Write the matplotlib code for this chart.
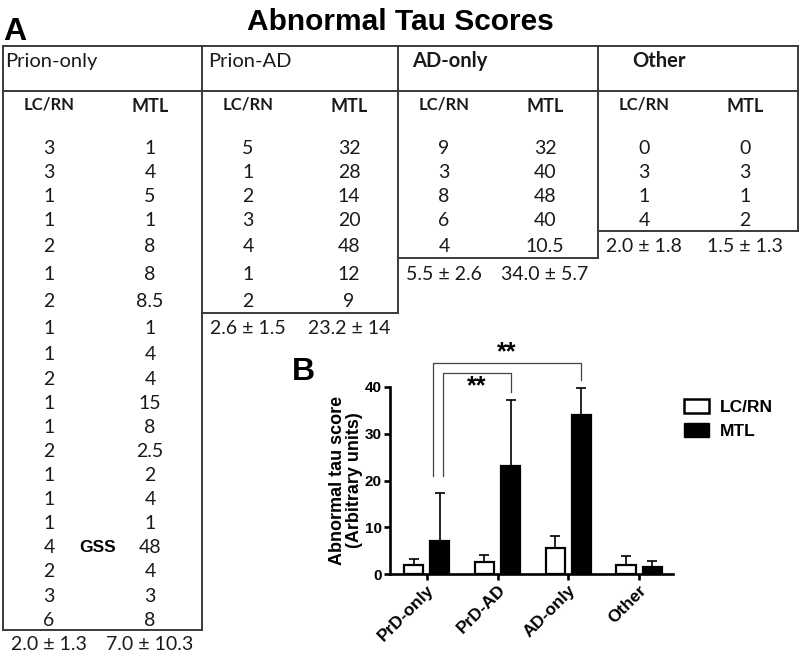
import matplotlib
matplotlib.use('Agg')
import matplotlib.pyplot as plt
from matplotlib.patches import Patch
import numpy as np

plt.rcParams['font.family'] = ['Liberation Sans', 'DejaVu Sans']

# ---- data (panel A table) ----
groups = ['Prion-only', 'Prion-AD', 'AD-only', 'Other']
prion_only_lc = [3, 3, 1, 1, 2, 1, 2, 1, 1, 2, 1, 1, 2, 1, 1, 1, 4, 2, 3, 6]
prion_only_mtl = [1, 4, 5, 1, 8, 8, 8.5, 1, 4, 4, 15, 8, 2.5, 2, 4, 1, 48, 4, 3, 8]
prion_ad_lc = [5, 1, 2, 3, 4, 1, 2]
prion_ad_mtl = [32, 28, 14, 20, 48, 12, 9]
ad_only_lc = [9, 3, 8, 6, 4]
ad_only_mtl = [32, 40, 48, 40, 10.5]
other_lc = [0, 3, 1, 4]
other_mtl = [0, 3, 1, 2]
gss_row = 16  # the GSS case in Prion-only

# ---- data (panel B bars) ----
bar_labels = ['PrD-only', 'PrD-AD', 'AD-only', 'Other']
lc_mean = [2.0, 2.6, 5.5, 2.0]
lc_sd = [1.3, 1.5, 2.6, 1.8]
mtl_mean = [7.0, 23.2, 34.0, 1.5]
mtl_sd = [10.3, 14, 5.7, 1.3]
sig_pairs = [(0, 1), (0, 2)]
sig_text = ['**', '**']

lc_cols = [prion_only_lc, prion_ad_lc, ad_only_lc, other_lc]
mtl_cols = [prion_only_mtl, prion_ad_mtl, ad_only_mtl, other_mtl]

fig = plt.figure(figsize=(8, 6.52), dpi=100)

# table drawn in pixel coordinates
tab = fig.add_axes([0, 0, 1, 1])
tab.set_xlim(0, 800)
tab.set_ylim(652, 0)
tab.axis('off')

col_edges = [3, 202, 398, 598, 798]
row_y = np.r_[147 + 24 * np.arange(4), 246 + 27.3 * np.arange(4), 354 + 24.1 * np.arange(13)]
head_x = [5, 208, 412, 632]
head_w = ['normal', 'normal', 'bold', 'bold']
lc_off, mtl_off = 46, 147
tfont = 'Lato'
lcol = '#3a3a3a'
tcol = '#1a1a1a'
nsize = 14

tab.plot([col_edges[0], col_edges[-1]], [46, 46], color=lcol, lw=1.4)
tab.plot([col_edges[0], col_edges[-1]], [91, 91], color=lcol, lw=1.4)
tab.plot([col_edges[0], col_edges[0]], [46, 630], color=lcol, lw=1.4)

for i, g in enumerate(groups):
    x0, x1 = col_edges[i], col_edges[i + 1]
    n = len(lc_cols[i])
    ybot = (row_y[n - 1] + row_y[n]) / 2 - 1.5
    tab.plot([x0, x1], [ybot, ybot], color=lcol, lw=1.4)
    tab.plot([x1, x1], [46, ybot], color=lcol, lw=1.4)
    tab.text(head_x[i], 67, g, family=tfont, fontsize=14.5, weight=head_w[i],
             color=tcol, va='baseline', ha='left')
    tab.text(x0 + lc_off, 110, 'LC/RN', family=tfont, fontsize=12, weight='bold',
             color=tcol, va='baseline', ha='center')
    tab.text(x0 + mtl_off, 112, 'MTL', family=tfont, fontsize=13, weight='bold',
             color=tcol, va='baseline', ha='center')
    for r in range(n):
        tab.text(x0 + lc_off, row_y[r] + 6.5, '{:g}'.format(lc_cols[i][r]), family=tfont,
                 fontsize=nsize, color=tcol, va='baseline', ha='center')
        tab.text(x0 + mtl_off, row_y[r] + 6.5, '{:g}'.format(mtl_cols[i][r]), family=tfont,
                 fontsize=nsize, color=tcol, va='baseline', ha='center')
    tab.text(x0 + lc_off, row_y[n] + 6.5, '{:.1f} ± {:g}'.format(lc_mean[i], lc_sd[i]),
             family=tfont, fontsize=nsize, color=tcol, va='baseline', ha='center')
    tab.text(x0 + mtl_off, row_y[n] + 6.5, '{:.1f} ± {:g}'.format(mtl_mean[i], mtl_sd[i]),
             family=tfont, fontsize=nsize, color=tcol, va='baseline', ha='center')

tab.text(98, row_y[gss_row] + 5.5, 'GSS', fontsize=12.5, weight='bold', va='baseline', ha='center')
tab.text(400, 30, 'Abnormal Tau Scores', fontsize=21.5, weight='bold', va='baseline', ha='center')
tab.text(3, 40, 'A', fontsize=23, weight='bold', va='baseline', ha='left')
tab.text(292, 380, 'B', fontsize=23, weight='bold', va='baseline', ha='left')

# ---- panel B ----
ax = fig.add_axes([390 / 800, (652 - 574) / 652, (673 - 390) / 800, (574 - 387) / 652])
ax.patch.set_alpha(0)
x = np.arange(len(bar_labels))
w, off = 0.27, 0.185
ax.bar(x - off, lc_mean, w, color='white', edgecolor='black', lw=1.6, zorder=3)
ax.bar(x + off, mtl_mean, w, color='black', edgecolor='black', lw=1.6, zorder=3)
ax.errorbar(x - off, lc_mean, yerr=[np.zeros(4), lc_sd], fmt='none', ecolor='black',
            elinewidth=1.2, capsize=3.5, capthick=1.2, zorder=2)
ax.errorbar(x + off, mtl_mean, yerr=[np.zeros(4), mtl_sd], fmt='none', ecolor='black',
            elinewidth=1.2, capsize=3.5, capthick=1.2, zorder=2)

ax.set_xlim(-0.52, 3.48)
ax.set_ylim(0, 40)
for s in ['top', 'right']:
    ax.spines[s].set_visible(False)
for s in ['left', 'bottom']:
    ax.spines[s].set_linewidth(1.9)
ax.set_yticks([0, 10, 20, 30, 40])
ax.set_yticklabels(['0', '10', '20', '30', '40'], fontweight='bold', fontsize=11)
ax.set_xticks(x)
ax.set_xticklabels(bar_labels, rotation=45, ha='right', rotation_mode='anchor',
                   fontweight='bold', fontsize=12.5)
ax.tick_params(width=1.9, length=4, pad=2)
ax.set_ylabel('Abnormal tau score\n(Arbitrary units)', fontweight='bold', fontsize=13,
              linespacing=1.0, labelpad=1.5)

# significance brackets
leg_left = [0.23, 0.085]
leg_low = [20.9, 20.9]
tops = [42.9, 45.2]
star_y = [40.2, 47.4]
for k, (a, b) in enumerate(sig_pairs):
    xl = a + leg_left[k]
    xr = b + off
    yr = mtl_mean[b] + mtl_sd[b] + 1.8
    ax.plot([xl, xl, xr, xr], [leg_low[k], tops[k], tops[k], yr], color='#444444',
            lw=0.9, clip_on=False)
    ax.text((xl + xr) / 2, star_y[k], sig_text[k], fontsize=18, weight='bold',
            ha='center', va='center', clip_on=False)

handles = [Patch(facecolor='white', edgecolor='black', lw=1.8, label='LC/RN'),
           Patch(facecolor='black', edgecolor='black', label='MTL')]
fig.legend(handles=handles, loc='upper left', bbox_to_anchor=(684 / 800, 1 - 399 / 652),
           frameon=False, borderpad=0, borderaxespad=0, handlelength=1.45, handleheight=0.85,
           handletextpad=0.6, labelspacing=0.45, prop={'weight': 'bold', 'size': 12.5})

fig.savefig('out.png', dpi=100)
